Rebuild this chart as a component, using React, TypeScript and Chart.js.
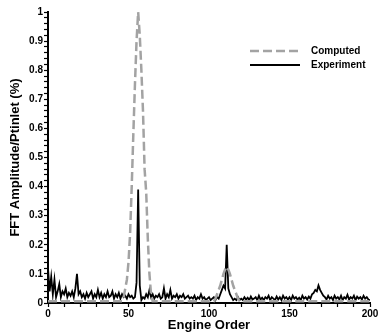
import React, { useEffect, useRef } from "react";
import { Chart, registerables } from "chart.js";

Chart.register(...registerables);

// Engine order (x) for experiment samples: 0..200 step 1
const experimentOrders: number[] = Array.from({ length: 201 }, (_, i) => i);

const experimentValues: number[] = [
  0.12, 0.04, 0.09, 0.03, 0.08, 0.02, 0.04, 0.065, 0.02, 0.04,
  0.03, 0.05, 0.02, 0.035, 0.025, 0.04, 0.02, 0.05, 0.1, 0.03,
  0.04, 0.02, 0.03, 0.015, 0.035, 0.02, 0.03, 0.04, 0.015, 0.03,
  0.02, 0.045, 0.02, 0.035, 0.015, 0.03, 0.02, 0.04, 0.02, 0.025,
  0.04, 0.015, 0.03, 0.02, 0.035, 0.015, 0.03, 0.02, 0.025, 0.015,
  0.03, 0.02, 0.025, 0.015, 0.02, 0.07, 0.39, 0.06, 0.01, 0.02,
  0.015, 0.03, 0.02, 0.045, 0.02, 0.03, 0.015, 0.025, 0.02, 0.03,
  0.015, 0.02, 0.05, 0.015, 0.03, 0.02, 0.045, 0.015, 0.025, 0.02,
  0.03, 0.015, 0.025, 0.02, 0.03, 0.015, 0.02, 0.025, 0.015, 0.02,
  0.015, 0.025, 0.01, 0.02, 0.015, 0.03, 0.015, 0.02, 0.01, 0.015,
  0.02, 0.01, 0.015, 0.02, 0.01, 0.02, 0.015, 0.03, 0.045, 0.06,
  0.05, 0.2, 0.05, 0.03, 0.02, 0.01, 0.015, 0.01, 0.02, 0.01,
  0.015, 0.01, 0.02, 0.012, 0.018, 0.01, 0.022, 0.012, 0.015, 0.02,
  0.01, 0.025, 0.012, 0.018, 0.01, 0.02, 0.015, 0.025, 0.01, 0.02,
  0.015, 0.01, 0.022, 0.012, 0.02, 0.01, 0.025, 0.015, 0.02, 0.012,
  0.02, 0.01, 0.025, 0.015, 0.02, 0.012, 0.018, 0.01, 0.025, 0.015,
  0.02, 0.012, 0.022, 0.015, 0.03, 0.035, 0.045, 0.04, 0.06, 0.045,
  0.035, 0.025, 0.02, 0.012, 0.025, 0.015, 0.02, 0.01, 0.025, 0.015,
  0.02, 0.012, 0.025, 0.01, 0.02, 0.015, 0.028, 0.012, 0.02, 0.015,
  0.025, 0.01, 0.022, 0.015, 0.02, 0.012, 0.025, 0.015, 0.02, 0.012,
  0.01,
];

const computedOrders: number[] = [
  0, 46, 47, 48, 49, 50, 51, 52, 53, 54, 55, 56, 57, 58, 59, 60, 61, 62, 63, 64, 65,
  103, 104, 105, 106, 107, 108, 109, 110, 111, 112, 113, 114, 115, 116, 117, 118, 119, 200,
];
const computedValues: number[] = [
  0.006, 0.006, 0.02, 0.05, 0.08, 0.14, 0.24, 0.4, 0.58, 0.75, 0.9, 1.0, 0.92, 0.8, 0.66, 0.46, 0.38, 0.22, 0.1, 0.03, 0.006,
  0.006, 0.015, 0.03, 0.045, 0.06, 0.08, 0.1, 0.115, 0.125, 0.115, 0.1, 0.08, 0.06, 0.045, 0.03, 0.015, 0.006, 0.006,
];

const yTickLabels: number[] = [0, 0.1, 0.2, 0.3, 0.4, 0.5, 0.6, 0.7, 0.8, 0.9, 1];
const xTickLabels: number[] = [0, 50, 100, 150, 200];

const FONT = "'Liberation Sans', Arial, Helvetica, sans-serif";

const legendPlugin = {
  id: "insideLegend",
  afterDraw(chart: any) {
    const ctx = chart.ctx;
    const area = chart.chartArea;
    const items = chart.data.datasets.map((ds: any) => ({
      label: ds.label,
      color: ds.borderColor,
      width: ds.borderWidth,
      dash: ds.borderDash || [],
    }));
    const x0 = area.right - 120;
    const lineLen = 50;
    const y0 = area.top + 39;
    const gap = 14;
    ctx.save();
    items.forEach((it: any, i: number) => {
      const y = y0 + i * gap;
      ctx.beginPath();
      ctx.setLineDash(it.dash);
      ctx.strokeStyle = it.color;
      ctx.lineWidth = it.width;
      ctx.moveTo(x0, y);
      ctx.lineTo(x0 + lineLen, y);
      ctx.stroke();
      ctx.setLineDash([]);
      ctx.fillStyle = "#000";
      ctx.font = `bold 10px ${FONT}`;
      ctx.textBaseline = "middle";
      ctx.textAlign = "left";
      ctx.fillText(it.label, x0 + lineLen + 11, y);
    });
    ctx.restore();
  },
};

export default function App() {
  const ref = useRef<HTMLCanvasElement | null>(null);

  useEffect(() => {
    document.body.style.margin = "0";
    const canvas = ref.current;
    if (!canvas) return;
    const chart = new Chart(canvas, {
      type: "line",
      data: {
        datasets: [
          {
            label: "Computed",
            data: computedOrders.map((x, i) => ({ x, y: computedValues[i] })),
            borderColor: "#a3a3a3",
            borderWidth: 2.5,
            borderDash: [9, 4],
            pointRadius: 0,
            tension: 0,
            fill: false,
          },
          {
            label: "Experiment",
            data: experimentOrders.map((x, i) => ({ x, y: experimentValues[i] })),
            borderColor: "#000",
            borderWidth: 1.8,
            pointRadius: 0,
            tension: 0,
            fill: false,
          },
        ],
      },
      options: {
        animation: false,
        responsive: false,
        maintainAspectRatio: false,
        layout: { padding: { top: 12, right: 16, left: 0, bottom: 0 } },
        plugins: {
          legend: { display: false },
          tooltip: { enabled: false },
        },
        scales: {
          x: {
            type: "linear",
            min: 0,
            max: 200,
            border: { color: "#000", width: 2 },
            grid: { drawOnChartArea: false, color: "#000", tickLength: 4, tickWidth: 1.2 },
            ticks: {
              stepSize: 10,
              autoSkip: false,
              maxRotation: 0,
              padding: 1,
              color: "#000",
              font: { family: FONT, size: 10, weight: "bold" },
              callback: (v: any) => (xTickLabels.includes(Number(v)) ? String(v) : ""),
            },
            title: {
              display: true,
              text: "Engine Order",
              color: "#000",
              font: { family: FONT, size: 13, weight: "bold" },
              padding: { top: 0, bottom: 0 },
            },
            afterFit: (s: any) => {
              s.height = 30;
            },
          },
          y: {
            type: "linear",
            min: 0,
            max: 1,
            border: { color: "#000", width: 2 },
            grid: { drawOnChartArea: false, color: "#000", tickLength: 4, tickWidth: 1.2 },
            ticks: {
              stepSize: 0.02,
              autoSkip: false,
              padding: 1,
              color: "#000",
              font: { family: FONT, size: 10, weight: "bold" },
              callback: (v: any) => {
                const n = Math.round(Number(v) * 100) / 100;
                return yTickLabels.some((t) => Math.abs(t - n) < 1e-6) ? String(n) : "";
              },
            },
            title: {
              display: true,
              text: "FFT Amplitude/Ptinlet (%)",
              color: "#000",
              font: { family: FONT, size: 13, weight: "bold" },
              padding: { top: 8, bottom: 0 },
            },
            afterFit: (s: any) => {
              s.width = 48;
            },
          },
        },
      },
      plugins: [legendPlugin],
    });
    return () => chart.destroy();
  }, []);

  return (
    <div style={{ width: 386, height: 333, background: "#fff" }}>
      <canvas ref={ref} width={386} height={333} style={{ display: "block" }} />
    </div>
  );
}
